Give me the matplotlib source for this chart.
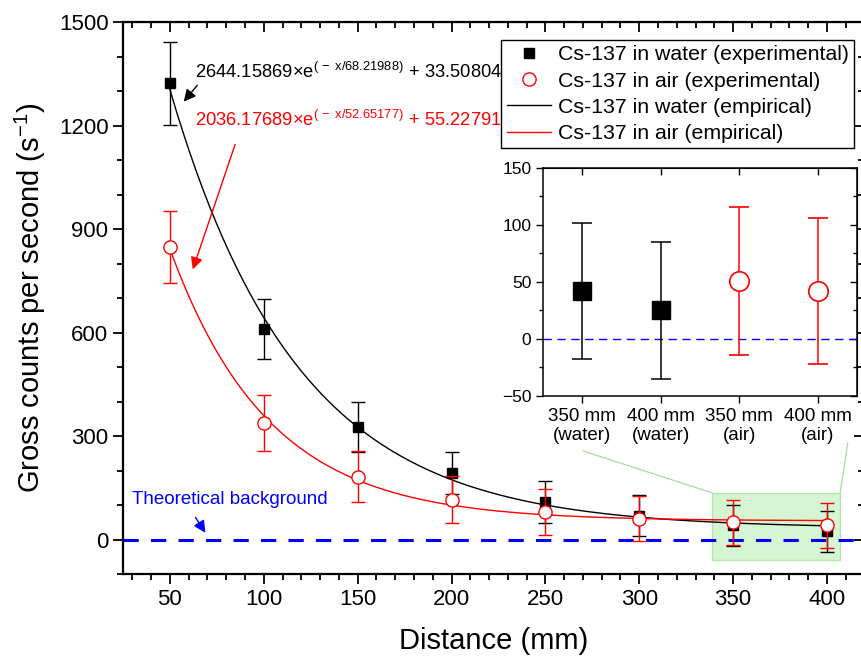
import numpy as np
import matplotlib.pyplot as plt
from matplotlib.lines import Line2D
from matplotlib.patches import Rectangle, ConnectionPatch
from matplotlib.ticker import MultipleLocator

plt.rcParams['font.family'] = ['Liberation Sans', 'DejaVu Sans']
plt.rcParams['mathtext.fontset'] = 'custom'
plt.rcParams['mathtext.rm'] = 'Liberation Sans'
plt.rcParams['mathtext.it'] = 'Liberation Sans:italic'

distance = [50, 100, 150, 200, 250, 300, 350, 400]
water = [1322, 611, 328, 194, 111, 70, 42, 25]
water_err = [120, 86, 72, 62, 61, 60, 60, 60]
air = [848, 339, 183, 117, 80, 61, 51, 42]
air_err = [105, 80, 74, 68, 67, 65, 65, 64]

# empirical fit parameters shown on the chart
water_fit = (2644.15869, 68.21988, 33.50804)
air_fit = (2036.17689, 52.65177, 55.22791)

inset_labels = ['350 mm\n(water)', '400 mm\n(water)', '350 mm\n(air)', '400 mm\n(air)']

fig = plt.figure(figsize=(8.62, 6.61), dpi=100)
ax = fig.add_axes([0.1427, 0.1309, 0.8602, 0.8358])

# zoom region highlight
ax.add_patch(Rectangle((339, -58), 68, 194, facecolor='#d6f5d2', edgecolor='#b5e3ad', lw=1, zorder=1))

ax.axhline(0, color='blue', lw=2.2, dashes=(5, 4), zorder=2)

xs = np.linspace(50, 400, 300)
a, t, c = water_fit
ax.plot(xs, a * np.exp(-xs / t) + c, color='black', lw=1, zorder=3)
a, t, c = air_fit
ax.plot(xs, a * np.exp(-xs / t) + c, color='red', lw=1, zorder=3)

ax.errorbar(distance, water, yerr=water_err, fmt='s', color='black', ms=7,
            capsize=5, elinewidth=1, capthick=1, zorder=4)
ax.errorbar(distance, air, yerr=air_err, fmt='o', mfc='white', mec='red', ecolor='red',
            ms=9.5, mew=1, capsize=5, elinewidth=1, capthick=1, zorder=5)

ax.set_xlim(25, 420)
ax.set_ylim(-100, 1500)
ax.xaxis.set_major_locator(MultipleLocator(50))
ax.xaxis.set_minor_locator(MultipleLocator(10))
ax.yaxis.set_major_locator(MultipleLocator(300))
ax.yaxis.set_minor_locator(MultipleLocator(100))
ax.tick_params(which='major', direction='out', length=7, width=1.3, labelsize=16)
ax.tick_params(which='minor', direction='out', length=4, width=1.3)
for s in ax.spines.values():
    s.set_linewidth(1.6)

top = ax.secondary_xaxis('top')
top.xaxis.set_major_locator(MultipleLocator(50))
top.xaxis.set_minor_locator(MultipleLocator(10))
top.tick_params(which='major', direction='in', length=7, width=1.3, labeltop=False)
top.tick_params(which='minor', direction='in', length=4, width=1.3)
right = ax.secondary_yaxis('right')
right.yaxis.set_major_locator(MultipleLocator(300))
right.yaxis.set_minor_locator(MultipleLocator(100))
right.tick_params(which='major', direction='in', length=7, width=1.3, labelright=False)
right.tick_params(which='minor', direction='in', length=4, width=1.3)

ax.set_xlabel('Distance (mm)', fontsize=21, labelpad=12)
ax.set_ylabel('Gross counts per second (s$^{-1}$)', fontsize=21, labelpad=8)

# equations and arrows
ax.text(63.3, 1355, r'2644.15869×e$^{\mathrm{(\,-\ x/68.21988)}}$ + 33.50804',
        fontsize=13.2, va='center', ha='left', color='black', zorder=6)
ax.text(63.3, 1216, r'2036.17689×e$^{\mathrm{(\,-\ x/52.65177)}}$ + 55.22791',
        fontsize=13.2, va='center', ha='left', color='red', zorder=6)
ax.annotate('', xy=(56.4, 1263), xytext=(65.5, 1323),
            arrowprops=dict(arrowstyle='-|>', color='black', lw=1, mutation_scale=18))
ax.annotate('', xy=(61.7, 776), xytext=(85.2, 1153),
            arrowprops=dict(arrowstyle='-|>', color='red', lw=1, mutation_scale=18))
ax.text(29.8, 116, 'Theoretical background', color='blue', fontsize=13.5, va='center', ha='left')
ax.annotate('', xy=(69.7, 14), xytext=(62.8, 72),
            arrowprops=dict(arrowstyle='-|>', color='blue', lw=1, mutation_scale=18))

handles = [
    Line2D([], [], marker='s', color='black', ls='none', ms=7),
    Line2D([], [], marker='o', mfc='white', mec='red', ls='none', ms=9.5),
    Line2D([], [], color='black', lw=1),
    Line2D([], [], color='red', lw=1),
]
labels = ['Cs-137 in water (experimental)', 'Cs-137 in air (experimental)',
          'Cs-137 in water (empirical)', 'Cs-137 in air (empirical)']
leg = ax.legend(handles, labels, loc='upper right', bbox_to_anchor=(854 / 862, 1 - 40 / 661),
                bbox_transform=fig.transFigure, fontsize=15.3, frameon=True, fancybox=False,
                edgecolor='black', framealpha=1, borderpad=0.25, labelspacing=0.34,
                handlelength=2.1, handletextpad=0.3, borderaxespad=0)
leg.get_frame().set_linewidth(1)

# inset
axin = fig.add_axes([0.630, 0.401, 0.364, 0.345])
axin.axhline(0, color='blue', lw=1, dashes=(6, 4))
axin.errorbar([0, 1], water[-2:], yerr=water_err[-2:], fmt='s', color='black', ms=13,
              capsize=7, elinewidth=1.1, capthick=1.1)
axin.errorbar([2, 3], air[-2:], yerr=air_err[-2:], fmt='o', mfc='white', mec='red', ecolor='red',
              ms=14, mew=1.2, capsize=7, elinewidth=1.1, capthick=1.1)
axin.set_xlim(-0.5, 3.5)
axin.set_ylim(-50, 150)
axin.set_xticks(range(4))
axin.set_xticklabels(inset_labels)
axin.yaxis.set_major_locator(MultipleLocator(50))
axin.yaxis.set_minor_locator(MultipleLocator(25))
axin.tick_params(which='major', direction='out', length=5, width=1, labelsize=12.5)
axin.tick_params(axis='x', labelsize=13.5)
axin.tick_params(which='minor', direction='out', length=3, width=1)
for s in axin.spines.values():
    s.set_linewidth(1.1)
itop = axin.secondary_xaxis('top')
itop.set_xticks(range(4))
itop.tick_params(direction='in', length=5, width=1, labeltop=False)
iright = axin.secondary_yaxis('right')
iright.yaxis.set_major_locator(MultipleLocator(50))
iright.yaxis.set_minor_locator(MultipleLocator(25))
iright.tick_params(which='major', direction='in', length=5, width=1, labelright=False)
iright.tick_params(which='minor', direction='in', length=3, width=1)

for xa, xb in [((0.127, -0.241), (339, 136)), ((0.971, -0.206), (407, 136))]:
    con = ConnectionPatch(xyA=xa, coordsA=axin.transAxes, xyB=xb, coordsB=ax.transData,
                          color='#a8dca0', lw=0.9)
    fig.add_artist(con)

fig.savefig('out.png', dpi=100)
